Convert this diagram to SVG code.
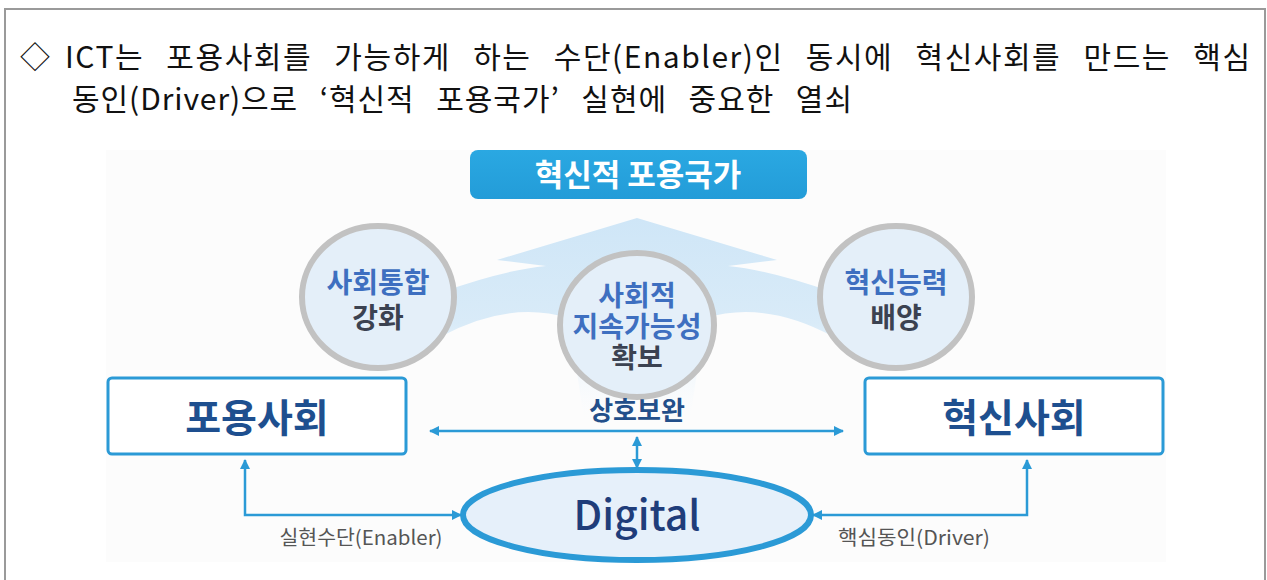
<svg xmlns="http://www.w3.org/2000/svg" width="1267" height="580" viewBox="0 0 1267 580">
  <style>
    .head { font-family: "Noto Sans CJK KR", "Noto Sans", sans-serif; font-size: 30px; fill: #111; }
    .title { font-family: "Noto Sans CJK KR", sans-serif; font-weight: 700; font-size: 31px; fill: #ffffff; text-anchor: middle; }
    .circ { fill: #e4eff9; stroke: #c2c2c2; stroke-width: 6; }
    .ctxt { font-family: "Noto Sans CJK KR", sans-serif; font-weight: 700; font-size: 28px; text-anchor: middle; }
    .blue { fill: #3e6fc0; }
    .dark { fill: #3b4251; }
    .box { fill: #ffffff; stroke: #2b9ad6; stroke-width: 3; }
    .btxt { font-family: "Noto Sans CJK KR", sans-serif; font-weight: 700; font-size: 39px; fill: #1e4f8f; text-anchor: middle; }
    .lbl { font-family: "Noto Sans CJK KR", sans-serif; font-size: 20px; fill: #555; text-anchor: middle; }
    .link { fill: none; stroke: #2b9ad6; stroke-width: 2.5; }
  </style>
  <defs>
    <marker id="arr" viewBox="0 0 10 10" refX="9" refY="5" markerWidth="11" markerHeight="10" markerUnits="userSpaceOnUse" orient="auto-start-reverse">
      <path d="M0,0 L10,5 L0,10 Z" fill="#2b9ad6"/>
    </marker>
    <linearGradient id="flow" gradientUnits="userSpaceOnUse" x1="0" y1="218" x2="0" y2="430">
      <stop offset="0" stop-color="#cfe6f7"/>
      <stop offset="0.5" stop-color="#d9ebf8"/>
      <stop offset="1" stop-color="#ffffff" stop-opacity="0"/>
    </linearGradient>
    <linearGradient id="titleFill" x1="0" y1="0" x2="0" y2="1">
      <stop offset="0" stop-color="#2aa8e2"/>
      <stop offset="1" stop-color="#239cd8"/>
    </linearGradient>
  </defs>

  <!-- page frame -->
  <rect x="5" y="9" width="1260" height="600" fill="#ffffff" stroke="#9a9a9a" stroke-width="2"/>

  <!-- heading -->
  <g id="heading">
    <text class="head" x="20" y="68">◇</text>
    <text class="head" x="65" y="68" word-spacing="14" textLength="1185" lengthAdjust="spacing">ICT는 포용사회를 가능하게 하는 수단(Enabler)인 동시에 혁신사회를 만드는 핵심</text>
    <text class="head" x="72" y="110" word-spacing="14" textLength="780" lengthAdjust="spacing">동인(Driver)으로 ‘혁신적 포용국가’ 실현에 중요한 열쇠</text>
  </g>

  <!-- figure backdrop -->
  <rect x="106" y="150" width="1060" height="412" fill="#fcfcfc"/>

  <!-- upward flow arrow -->
  <path id="flow-arrow" fill="url(#flow)" d="M637,218 L777,260 L728,266 Q770,270 832,292 L832,336 Q765,300 705,318 L690,420 L584,420 L569,318 Q509,300 442,336 L442,292 Q504,270 546,266 L497,260 Z"/>

  <!-- goal -->
  <g id="goal">
    <rect x="470" y="150" width="337" height="49" rx="8" fill="url(#titleFill)"/>
    <text class="title" x="638" y="186">혁신적 포용국가</text>
  </g>

  <!-- value circles -->
  <g id="integration">
    <ellipse class="circ" cx="378" cy="297" rx="76" ry="71"/>
    <text class="ctxt blue" x="378" y="293">사회통합</text>
    <text class="ctxt dark" x="378" y="328">강화</text>
  </g>
  <g id="sustainability">
    <ellipse class="circ" cx="637" cy="325" rx="77" ry="72"/>
    <text class="ctxt blue" x="637" y="306">사회적</text>
    <text class="ctxt blue" x="637" y="337">지속가능성</text>
    <text class="ctxt dark" x="637" y="368">확보</text>
  </g>
  <g id="capability">
    <ellipse class="circ" cx="896" cy="297" rx="76" ry="71"/>
    <text class="ctxt blue" x="896" y="293">혁신능력</text>
    <text class="ctxt dark" x="896" y="328">배양</text>
  </g>

  <!-- societies -->
  <g id="inclusive">
    <rect class="box" x="108" y="378" width="298" height="76" rx="4"/>
    <text class="btxt" x="257" y="432">포용사회</text>
  </g>
  <g id="innovative">
    <rect class="box" x="865" y="378" width="298" height="76" rx="4"/>
    <text class="btxt" x="1014" y="432">혁신사회</text>
  </g>

  <!-- digital core -->
  <g id="digital">
    <ellipse cx="637" cy="515" rx="174" ry="45" fill="#e6f0fa" stroke="#2b9ad6" stroke-width="6"/>
    <text x="637" y="530" text-anchor="middle" font-family="Noto Sans CJK KR, sans-serif" font-weight="500" font-size="41" fill="#1f3d7a">Digital</text>
  </g>

  <!-- connectors -->
  <g id="links">
    <path class="link" d="M430,431 L843,431" marker-start="url(#arr)" marker-end="url(#arr)"/>
    <path class="link" d="M637,437 L637,468" marker-start="url(#arr)" marker-end="url(#arr)"/>
    <path class="link" d="M245,460 L245,515 L461,515" marker-start="url(#arr)" marker-end="url(#arr)"/>
    <path class="link" d="M1027,460 L1027,515 L813,515" marker-start="url(#arr)" marker-end="url(#arr)"/>
    <text x="637" y="420" text-anchor="middle" font-family="Noto Sans CJK KR, sans-serif" font-weight="700" font-size="26" fill="#234f8a">상호보완</text>
    <text class="lbl" x="361" y="545" textLength="163" lengthAdjust="spacingAndGlyphs">실현수단(Enabler)</text>
    <text class="lbl" x="914" y="545" textLength="152" lengthAdjust="spacingAndGlyphs">핵심동인(Driver)</text>
  </g>
</svg>
